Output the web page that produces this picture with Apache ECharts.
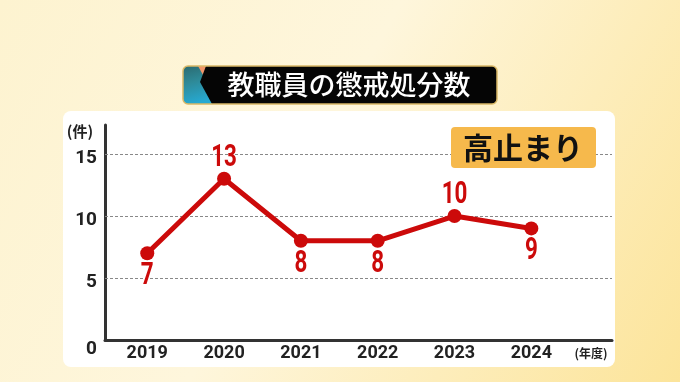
<!DOCTYPE html>
<html><head><meta charset="utf-8">
<script src="https://cdn.jsdelivr.net/npm/echarts@6/dist/echarts.min.js"></script>
<style>html,body{margin:0;padding:0;}#c{width:680px;height:382px;}</style>
</head><body><div id="c"></div>
<script>
const years = [2019, 2020, 2021, 2022, 2023, 2024];
const counts = [7, 13, 8, 8, 10, 9];
const labelPos = ['bottom', 'top', 'bottom', 'bottom', 'top', 'bottom'];
const yTicks = [0, 5, 10, 15];
const gridLines = [5, 10, 15];
const titleText = '教職員の懲戒処分数';
const badgeText = '高止まり';
const yUnit = '(件)';
const xUnit = '(年度)';

const NUM_FONT = 'Roboto, sans-serif';
const JP_FONT = '"Noto Sans CJK JP",sans-serif';
const RED = '#cc0a0a';

const chart = echarts.init(document.getElementById('c'), null, {renderer: 'canvas'});
chart.setOption({
  animation: false,
  backgroundColor: {
    type: 'linear', x: 0, y: 0, x2: 1, y2: 1,
    colorStops: [{offset: 0, color: '#fdf3d0'}, {offset: 0.45, color: '#fef6dc'}, {offset: 1, color: '#fce49a'}]
  },
  graphic: [
    {type: 'rect', z: -10, shape: {x: 63, y: 111, width: 552, height: 256, r: 8}, style: {fill: '#ffffff'}},
    // title box
    {type: 'rect', z: 10, shape: {x: 183, y: 66, width: 34, height: 38, r: [5, 0, 0, 5]},
      style: {fill: {type: 'linear', x: 0, y: 0, x2: 0.3, y2: 1, colorStops: [{offset: 0, color: '#2b6a70'}, {offset: 0.45, color: '#2e8a98'}, {offset: 1, color: '#26a9d2'}]}}},
    {type: 'polygon', z: 11, shape: {points: [[198, 66], [207, 66], [203, 75]]}, style: {fill: '#f0956a'}},
    {type: 'polygon', z: 11, shape: {points: [[206, 66], [218, 66], [218, 104], [212, 104], [200, 82]]}, style: {fill: '#050505'}},
    {type: 'rect', z: 10, shape: {x: 216, y: 66, width: 281, height: 38, r: [0, 5, 5, 0]}, style: {fill: '#050505'}},
    {type: 'rect', z: 12, shape: {x: 183, y: 66, width: 314, height: 38, r: 5}, style: {fill: 'none', stroke: '#d9b867', lineWidth: 1.5}},
    {type: 'text', z: 13, x: 349, y: 85, style: {text: titleText, fill: '#ffffff', font: '500 27px ' + JP_FONT, align: 'center', verticalAlign: 'middle'}},
    // badge
    {type: 'rect', z: 10, shape: {x: 451, y: 127, width: 145, height: 41, r: 4}, style: {fill: '#f6b94c'}},
    {type: 'text', z: 11, x: 523, y: 148, style: {text: badgeText, fill: '#111111', font: 'bold 30px ' + JP_FONT, align: 'center', verticalAlign: 'middle'}},
    // units
    {type: 'text', z: 11, x: 80, y: 131, style: {text: yUnit, fill: '#222', font: 'bold 15px ' + JP_FONT, align: 'center', verticalAlign: 'middle'}},
    {type: 'text', z: 11, x: 591, y: 353, style: {text: xUnit, fill: '#222', font: 'bold 12px ' + JP_FONT, align: 'center', verticalAlign: 'middle'}}
  ],
  grid: {left: 105, right: 68, top: 125, bottom: 42, containLabel: false},
  xAxis: {
    type: 'value', min: 2018.45, max: 2025.05,
    axisLine: {show: true, lineStyle: {color: '#333333', width: 3}},
    axisTick: {show: false},
    splitLine: {show: false},
    axisLabel: {customValues: years, margin: 4, color: '#222', fontFamily: NUM_FONT, fontWeight: 'bold', fontSize: 18, formatter: v => String(v)}
  },
  yAxis: {
    type: 'value', min: 0, max: 17.34,
    axisLine: {show: true, lineStyle: {color: '#333333', width: 3}},
    axisTick: {show: false},
    splitLine: {show: false},
    axisLabel: {
      customValues: yTicks, margin: 8, color: '#222', fontFamily: NUM_FONT, fontWeight: 'bold', fontSize: 19,
      formatter: v => (v === 0 ? '{z|0}' : '{n|' + v + '}'),
      rich: {
        n: {fontFamily: NUM_FONT, fontWeight: 'bold', fontSize: 19, color: '#222', padding: [9, 0, 0, 0]},
        z: {fontFamily: NUM_FONT, fontWeight: 'bold', fontSize: 19, color: '#222', padding: [18, 0, 0, 0]}
      }
    }
  },
  series: [{
    type: 'line',
    data: years.map((y, i) => [y, counts[i]]),
    symbol: 'circle', symbolSize: 14,
    lineStyle: {color: RED, width: 5},
    itemStyle: {color: RED},
    label: {show: false},
    markLine: {
      silent: true, symbol: 'none', label: {show: false},
      lineStyle: {color: '#888888', type: [3, 2], width: 1},
      data: gridLines.map(v => ({yAxis: v}))
    },
    z: 5
  }, {
    type: 'custom',
    data: years.map((y, i) => [y, counts[i]]),
    z: 6,
    renderItem: (params, api) => {
      const p = api.coord([api.value(0), api.value(1)]);
      const up = labelPos[params.dataIndex] === 'top';
      return {
        type: 'text', x: p[0], y: p[1] + (up ? -21 : 23), scaleX: 0.7,
        style: {text: String(api.value(1)), fill: RED, font: 'bold 32px ' + NUM_FONT, align: 'center', verticalAlign: 'middle'}
      };
    }
  }]
});
</script></body></html>
